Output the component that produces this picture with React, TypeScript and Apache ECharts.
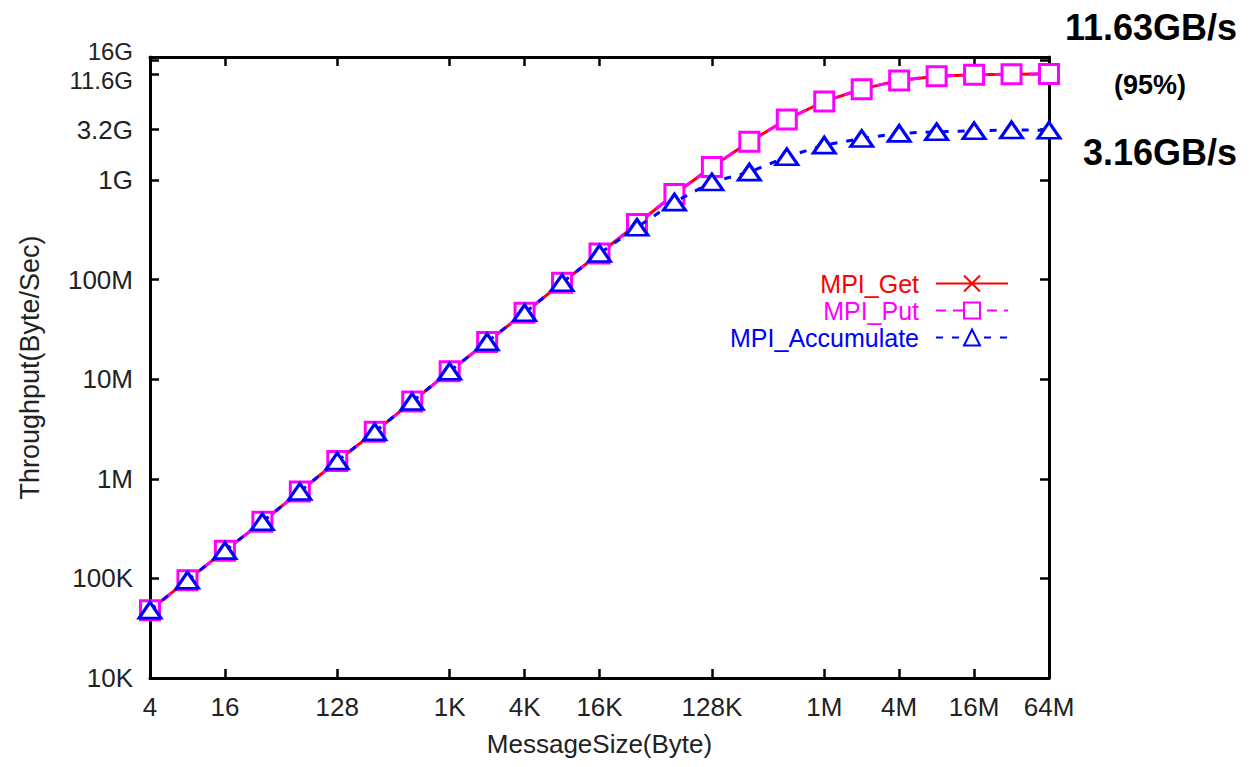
import React, { useEffect, useRef } from "react";
import * as echarts from "echarts";

// Message sizes (bytes): 4 B .. 64 MB
const sizes = [
  4, 8, 16, 32, 64, 128, 256, 512, 1024, 2048, 4096, 8192, 16384, 32768, 65536,
  131072, 262144, 524288, 1048576, 2097152, 4194304, 8388608, 16777216, 33554432, 67108864,
];

// Throughput (Byte/Sec)
const getValues = [
  4.8e4, 9.6e4, 1.9e5, 3.7e5, 7.45e5, 1.51e6, 2.96e6, 5.96e6, 1.2e7, 2.37e7, 4.64e7, 9.3e7,
  1.83e8, 3.6e8, 7.2e8, 1.35e9, 2.42e9, 4.06e9, 6.14e9, 8.17e9, 1.0e10, 1.1e10, 1.14e10,
  1.155e10, 1.163e10,
];
const putValues = [
  4.8e4, 9.6e4, 1.9e5, 3.7e5, 7.45e5, 1.51e6, 2.96e6, 5.96e6, 1.2e7, 2.37e7, 4.64e7, 9.3e7,
  1.83e8, 3.62e8, 7.25e8, 1.35e9, 2.42e9, 4.06e9, 6.14e9, 8.17e9, 1.0e10, 1.1e10, 1.14e10,
  1.155e10, 1.163e10,
];
const accValues = [
  4.8e4, 9.6e4, 1.9e5, 3.7e5, 7.45e5, 1.51e6, 2.96e6, 5.96e6, 1.2e7, 2.37e7, 4.64e7, 9.3e7,
  1.83e8, 3.35e8, 6.0e8, 9.55e8, 1.2e9, 1.71e9, 2.24e9, 2.61e9, 2.94e9, 3.05e9, 3.12e9,
  3.18e9, 3.16e9,
];

const xTickValues = [4, 16, 128, 1024, 4096, 16384, 131072, 1048576, 4194304, 16777216, 67108864];
const xTickLabels = ["4", "16", "128", "1K", "4K", "16K", "128K", "1M", "4M", "16M", "64M"];
const yTickValues = [1e4, 1e5, 1e6, 1e7, 1e8, 1e9, 3.2e9, 11.6e9, 16e9];
const yTickLabels = ["10K", "100K", "1M", "10M", "100M", "1G", "3.2G", "11.6G", "16G"];

const seriesNames = ["MPI_Get", "MPI_Put", "MPI_Accumulate"];
const seriesColors = ["#ff0000", "#ff00ff", "#0000ff"];

const FONT = '"Liberation Sans", Arial, Helvetica, sans-serif';

function nearestLabel(v: number, vals: number[], labels: string[]) {
  let best = 0;
  let bd = Infinity;
  for (let i = 0; i < vals.length; i++) {
    const d = Math.abs(Math.log(v) - Math.log(vals[i]));
    if (d < bd) {
      bd = d;
      best = i;
    }
  }
  return labels[best];
}

export default function App() {
  const ref = useRef<HTMLDivElement>(null);

  useEffect(() => {
    if (!ref.current) return;
    const chart = echarts.init(ref.current, undefined, { renderer: "svg" });

    const axisLine = { show: true, lineStyle: { color: "#000", width: 3 } };
    const tick = (vals: number[]) => ({
      show: true,
      inside: true,
      length: 9,
      lineStyle: { color: "#000", width: 2.5 },
      customValues: vals,
    });

    const xCommon = {
      type: "log" as const,
      logBase: 2,
      min: 4,
      max: 67108864,
      splitLine: { show: false },
      minorTick: { show: false },
      axisLine,
      axisTick: tick(xTickValues),
    };
    const yCommon = {
      type: "log" as const,
      logBase: 10,
      min: 1e4,
      max: 17179869184,
      splitLine: { show: false },
      minorTick: { show: false },
      axisLine,
      axisTick: tick(yTickValues),
    };

    const yLabelFormatter = (v: number) => {
      const l = nearestLabel(v, yTickValues, yTickLabels);
      if (l === "16G") return "{up|" + l + "}";
      if (l === "11.6G") return "{dn|" + l + "}";
      return l;
    };
    const yRich = {
      up: { fontFamily: FONT, fontSize: 24, color: "#222", padding: [0, 0, 18, 0] },
      dn: { fontFamily: FONT, fontSize: 24, color: "#222", padding: [14, 0, 0, 0] },
    };
    const yLabelBase = {
      show: true,
      margin: 17,
      fontFamily: FONT,
      fontSize: 26,
      color: "#222",
      hideOverlap: false,
      formatter: yLabelFormatter,
      rich: yRich,
    };

    const legendBase = {
      orient: "vertical" as const,
      align: "right" as const,
      right: 244,
      itemWidth: 72,
      itemHeight: 20,
      padding: 0,
      selectedMode: false,
    };
    const legendText = (color: string) => ({
      color,
      fontFamily: FONT,
      fontSize: 25,
      lineHeight: 25,
      padding: [0, 12, 0, 0],
    });

    const option = {
      animation: false,
      backgroundColor: "#fff",
      grid: { left: 150, right: 204, top: 57, bottom: 89, containLabel: false },
      xAxis: [
        {
          ...xCommon,
          position: "bottom",
          name: "MessageSize(Byte)",
          nameLocation: "middle",
          nameGap: 53,
          nameTextStyle: { fontFamily: FONT, fontSize: 26, color: "#222" },
          axisLabel: {
            show: true,
            margin: 16,
            fontFamily: FONT,
            fontSize: 26,
            color: "#222",
            hideOverlap: false,
            customValues: xTickValues,
            formatter: (v: number) => nearestLabel(v, xTickValues, xTickLabels),
          },
        },
        {
          ...xCommon,
          position: "top",
          axisLabel: { show: false },
        },
      ],
      yAxis: [
        {
          ...yCommon,
          position: "left",
          name: "Throughput(Byte/Sec)",
          nameLocation: "middle",
          nameGap: 107,
          nameTextStyle: { fontFamily: FONT, fontSize: 27, color: "#222" },
          axisLabel: { ...yLabelBase, customValues: yTickValues.slice(0, yTickValues.length - 1) },
        },
        {
          ...yCommon,
          position: "right",
          axisLabel: { show: false },
        },
        {
          ...yCommon,
          position: "left",
          axisLine: { show: false },
          axisTick: { show: false },
          axisLabel: { ...yLabelBase, customValues: yTickValues.slice(yTickValues.length - 1) },
        },
      ],
      legend: [
        { ...legendBase, data: [seriesNames[0]], top: 271, textStyle: legendText(seriesColors[0]) },
        { ...legendBase, data: [seriesNames[1]], top: 298, textStyle: legendText(seriesColors[1]) },
        { ...legendBase, data: [seriesNames[2]], top: 325, textStyle: legendText(seriesColors[2]) },
      ],
      series: [
        {
          name: seriesNames[0],
          type: "line",
          xAxisIndex: 0,
          yAxisIndex: 0,
          clip: false,
          z: 2,
          data: sizes.map((s, i) => [s, getValues[i]]),
          symbol: "path://M0,0L10,10M10,0L0,10",
          symbolSize: 16,
          lineStyle: { color: seriesColors[0], width: 3, type: "solid" },
          itemStyle: { color: seriesColors[0], borderColor: seriesColors[0], borderWidth: 3 },
        },
        {
          name: seriesNames[1],
          type: "line",
          xAxisIndex: 0,
          yAxisIndex: 0,
          clip: false,
          z: 3,
          data: sizes.map((s, i) => [s, putValues[i]]),
          symbol: "rect",
          symbolSize: 19,
          lineStyle: { color: seriesColors[1], width: 3, type: [10, 7] },
          itemStyle: { color: "#ffffff", borderColor: seriesColors[1], borderWidth: 3 },
        },
        {
          name: seriesNames[2],
          type: "line",
          xAxisIndex: 0,
          yAxisIndex: 0,
          clip: false,
          z: 4,
          data: sizes.map((s, i) => [s, accValues[i]]),
          symbol: "triangle",
          symbolSize: [22, 16],
          lineStyle: { color: seriesColors[2], width: 3, type: [7, 9] },
          itemStyle: { color: "#ffffff", borderColor: seriesColors[2], borderWidth: 3 },
        },
      ],
      graphic: [
        {
          type: "text",
          x: 1237,
          y: 27,
          style: {
            text: "11.63GB/s",
            font: 'bold 36px "Liberation Sans", Arial, sans-serif',
            fill: "#000",
            align: "right",
            verticalAlign: "middle",
          },
        },
        {
          type: "text",
          x: 1150,
          y: 85,
          style: {
            text: "(95%)",
            font: 'bold 27px "Liberation Sans", Arial, sans-serif',
            fill: "#000",
            align: "center",
            verticalAlign: "middle",
          },
        },
        {
          type: "text",
          x: 1237,
          y: 152,
          style: {
            text: "3.16GB/s",
            font: 'bold 36px "Liberation Sans", Arial, sans-serif',
            fill: "#000",
            align: "right",
            verticalAlign: "middle",
          },
        },
      ],
    };

    chart.setOption(option as any);
    return () => chart.dispose();
  }, []);

  return (
    <div
      ref={ref}
      style={{ position: "fixed", left: 0, top: 0, width: 1253, height: 767, background: "#fff" }}
    />
  );
}
